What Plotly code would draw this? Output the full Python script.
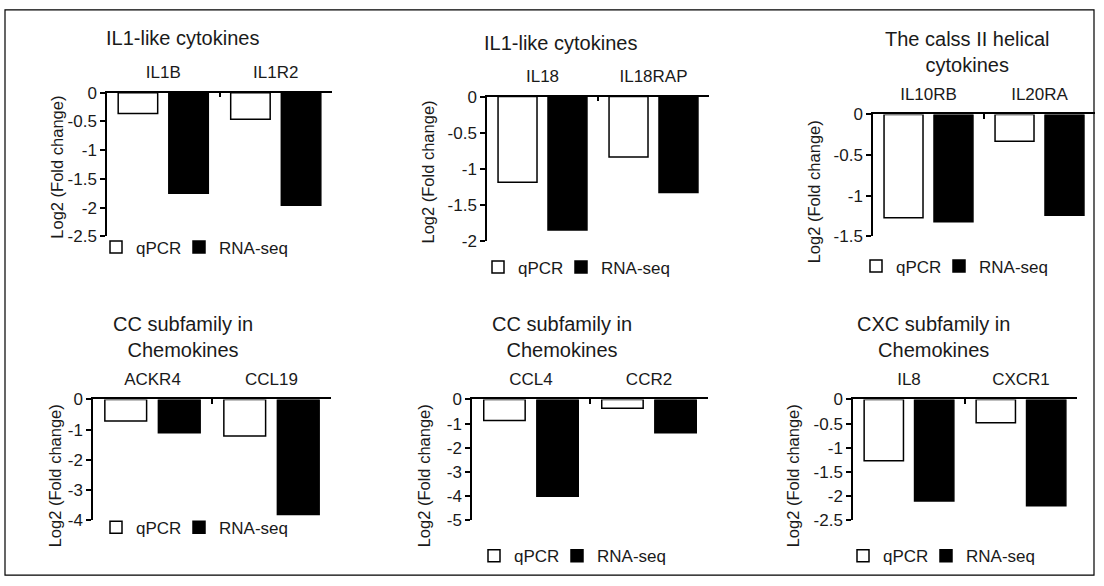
import plotly.graph_objects as go

# ---------------- data ----------------
panel_titles = [
    "IL1-like cytokines",
    "IL1-like cytokines",
    "The calss II helical<br>cytokines",
    "CC subfamily in<br>Chemokines",
    "CC subfamily in<br>Chemokines",
    "CXC subfamily in<br>Chemokines",
]
genes = [
    ["IL1B", "IL1R2"],
    ["IL18", "IL18RAP"],
    ["IL10RB", "IL20RA"],
    ["ACKR4", "CCL19"],
    ["CCL4", "CCR2"],
    ["IL8", "CXCR1"],
]
qpcr = [
    [-0.36, -0.46],
    [-1.19, -0.84],
    [-1.27, -0.33],
    [-0.71, -1.21],
    [-0.87, -0.37],
    [-1.27, -0.48],
]
rnaseq = [
    [-1.75, -1.96],
    [-1.85, -1.33],
    [-1.32, -1.24],
    [-1.10, -3.81],
    [-4.00, -1.38],
    [-2.10, -2.20],
]
y_tickvals = [
    [0, -0.5, -1, -1.5, -2, -2.5],
    [0, -0.5, -1, -1.5, -2],
    [0, -0.5, -1, -1.5],
    [0, -1, -2, -3, -4],
    [0, -1, -2, -3, -4, -5],
    [0, -0.5, -1, -1.5, -2, -2.5],
]
y_ticktext = [
    ["0", "-0.5", "-1", "-1.5", "-2", "-2.5"],
    ["0", "-0.5", "-1", "-1.5", "-2"],
    ["0", "-0.5", "-1", "-1.5"],
    ["0", "-1", "-2", "-3", "-4"],
    ["0", "-1", "-2", "-3", "-4", "-5"],
    ["0", "-0.5", "-1", "-1.5", "-2", "-2.5"],
]
series_names = ["qPCR", "RNA-seq"]
y_title = "Log2 (Fold change)"

# ---------------- layout (pixels) ----------------
W, H = 1104, 586
def fx(x):
    return x / W
def fy(y):
    return 1 - y / H

# plot area: x0, x1, y_top(zero), y_bottom
areas = [
    (107, 332, 86.5, 235),
    (487, 709, 90.5, 239.5),
    (873, 1095, 109, 235),
    (93, 331, 403.5, 528.5),
    (472, 708, 403.5, 528.5),
    (853, 1077, 403.5, 528.5),
]
title_pos = [(182, 30), (560, 35), (967, 44), (183, 338.5), (562, 338.5), (933, 338.5)]
ytitle_pos = [(57, 164), (428, 169), (814, 189.5), (55, 483), (424, 483), (793, 483)]
legend_pos = [(96, 246.5), (478, 267), (856, 266), (96, 536), (474, 565.5), (843, 565.5)]
legend_entry_w = [38, 72]

FONT = "Liberation Sans, Arial, sans-serif"
TXT = "#1a1a1a"

fig = go.Figure()
annotations = []
layout = dict(
    width=W, height=H, autosize=False,
    margin=dict(l=0, r=0, t=0, b=0),
    paper_bgcolor="white", plot_bgcolor="white",
    barmode="group", bargap=0.1, bargroupgap=0.22,
    font=dict(family=FONT, color=TXT, size=17),
    showlegend=True,
)

for i in range(6):
    n = i + 1
    xs = "" if n == 1 else str(n)
    leg = "legend" if n == 1 else f"legend{n}"
    x0, x1, yt, yb = areas[i]
    fig.add_trace(go.Bar(
        x=genes[i], y=qpcr[i], name=series_names[0],
        marker=dict(color="white", line=dict(color="black", width=1.5)),
        xaxis=f"x{xs}", yaxis=f"y{xs}", legend=leg, legendwidth=legend_entry_w[0],
    ))
    fig.add_trace(go.Bar(
        x=genes[i], y=rnaseq[i], name=series_names[1],
        marker=dict(color="black", line=dict(color="black", width=1.5)),
        xaxis=f"x{xs}", yaxis=f"y{xs}", legend=leg, legendwidth=legend_entry_w[1],
    ))
    layout[f"xaxis{xs}"] = dict(
        domain=[fx(x0), fx(x1)], anchor=f"y{xs}", side="top",
        type="category", tickson="boundaries", ticks="inside", ticklen=5,
        tickcolor="black", tickwidth=1.5,
        showline=True, linecolor="black", linewidth=1.5,
        showgrid=False, zeroline=False, fixedrange=True,
        tickfont=dict(size=17, family=FONT, color=TXT),
        ticklabelstandoff=6,
    )
    layout[f"yaxis{xs}"] = dict(
        domain=[fy(yb), fy(yt)], anchor=f"x{xs}",
        range=[y_tickvals[i][-1], 0], autorange=False,
        tickvals=y_tickvals[i], ticktext=y_ticktext[i],
        ticks="outside", ticklen=5, tickcolor="black", tickwidth=1.5,
        showline=True, linecolor="black", linewidth=1.5,
        showgrid=False, zeroline=False, fixedrange=True,
        tickfont=dict(size=17, family=FONT, color=TXT),
    )
    lx, ly = legend_pos[i]
    layout[leg] = dict(
        orientation="h", x=fx(lx), y=fy(ly), xanchor="left", yanchor="middle",
        font=dict(size=17, family=FONT, color=TXT), bgcolor="rgba(0,0,0,0)",
        itemwidth=30, traceorder="normal",
    )
    tx, ty = title_pos[i]
    annotations.append(dict(
        text=panel_titles[i], x=fx(tx), y=fy(ty), xref="paper", yref="paper",
        xanchor="center", yanchor="middle", showarrow=False,
        font=dict(size=20, family=FONT, color=TXT),
    ))
    ax, ay = ytitle_pos[i]
    annotations.append(dict(
        text=y_title, x=fx(ax), y=fy(ay), xref="paper", yref="paper",
        xanchor="center", yanchor="middle", showarrow=False, textangle=-90,
        font=dict(size=16.5, family=FONT, color=TXT),
    ))

layout["annotations"] = annotations
layout["shapes"] = [dict(
    type="rect", xref="paper", yref="paper",
    x0=fx(5), x1=fx(1094), y0=fy(585), y1=fy(1),
    line=dict(color="black", width=1.2), fillcolor="rgba(0,0,0,0)", layer="below",
)]
fig.update_layout(**layout)

post = (
    "document.documentElement.style.margin='0';"
    "document.documentElement.style.overflow='hidden';"
    "document.body.style.margin='0';"
    "document.body.style.overflow='hidden';"
    "var gd=document.getElementById('{plot_id}');"
    "gd.style.position='fixed';gd.style.left='0px';gd.style.top='0px';"
)
fig.write_html(
    "out.html",
    config={"displayModeBar": False},
    post_script=post,
)
